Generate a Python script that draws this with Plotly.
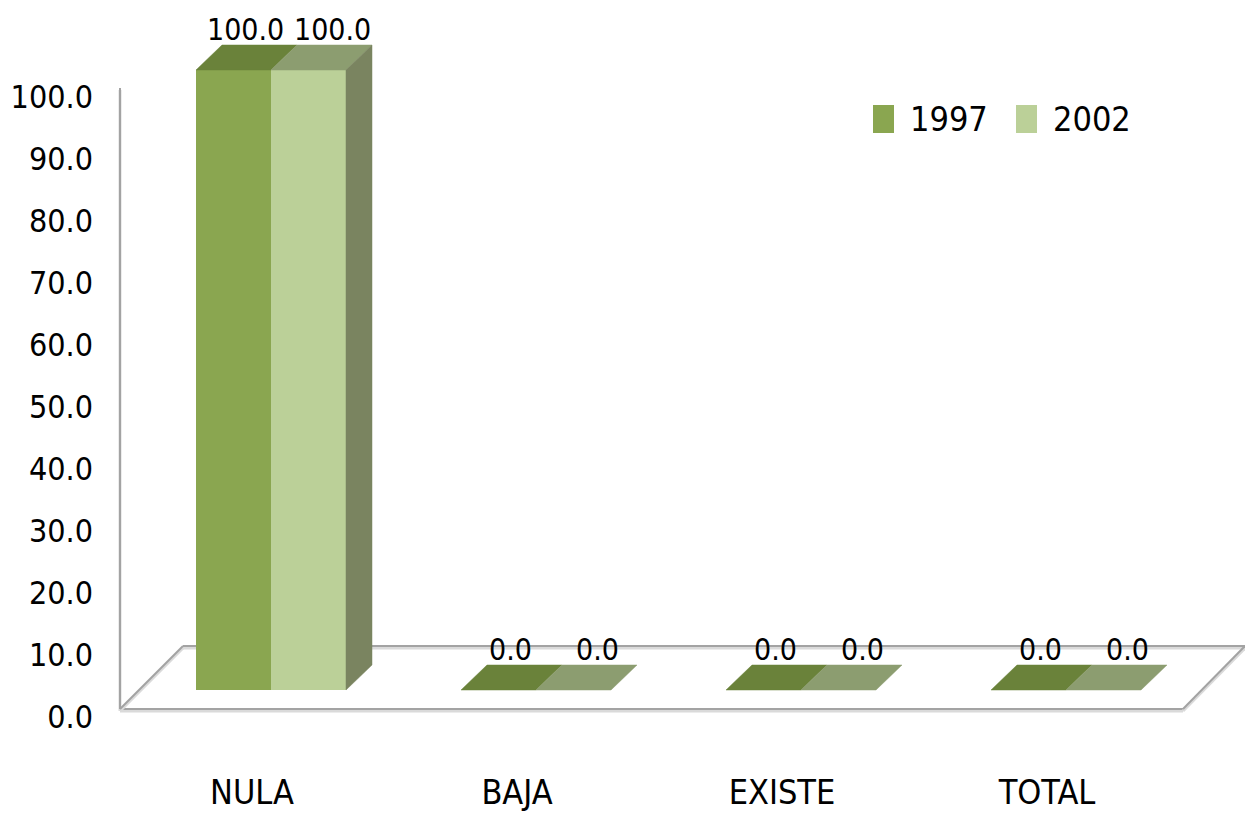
import plotly.graph_objects as go

# ---- data ----
categories = ["NULA", "BAJA", "EXISTE", "TOTAL"]
series_names = ["1997", "2002"]
values_1997 = [100.0, 0.0, 0.0, 0.0]
values_2002 = [100.0, 0.0, 0.0, 0.0]
y_ticks = [0, 10, 20, 30, 40, 50, 60, 70, 80, 90, 100]

# ---- styling ----
FONT = "Liberation Sans Narrow, DejaVu Sans Condensed, Arial Narrow, sans-serif"
front_cols = ["#8aa650", "#bbd098"]
top_cols = ["#6a823a", "#8c9d70"]
side_col = "#7a8460"
wall_col = "#a3a3a3"

W, H = 1245, 815
ML, MR, MT, MB = 120, 0, 0, 105
PX_PER_X = 265.0          # pixels per category step
PX_PER_Y = 6.2            # pixels per value unit
X0_PX = 271.0             # pixel of first category centre
Y0_PX = 690.0             # pixel of value 0 (bar base)

x_range = [(ML - X0_PX) / PX_PER_X, (W - MR - X0_PX) / PX_PER_X]
y_range = [(Y0_PX - (H - MB)) / PX_PER_Y, Y0_PX / PX_PER_Y]

bar_w = 75.0 / PX_PER_X
DX = 26.0 / PX_PER_X      # oblique depth, x
DY = 25.0 / PX_PER_Y      # oblique depth, y
label_shift = 19.0 / PX_PER_X

pos = list(range(len(categories)))
series = [values_1997, values_2002]

fig = go.Figure()

# front faces
for k, vals in enumerate(series):
    fig.add_trace(go.Bar(
        x=pos, y=vals, width=bar_w, offset=(-bar_w if k == 0 else 0.0),
        marker=dict(color=front_cols[k], line=dict(width=0)),
        name=series_names[k], showlegend=False, hoverinfo="skip"))

# top faces and right side face
for k, vals in enumerate(series):
    xs, ys = [], []
    for p, v in zip(pos, vals):
        xl = p - bar_w if k == 0 else p
        xr = xl + bar_w
        xs += [xl, xr, xr + DX, xl + DX, xl, None]
        ys += [v, v, v + DY, v + DY, v, None]
    fig.add_trace(go.Scatter(x=xs, y=ys, mode="lines", fill="toself",
                             fillcolor=top_cols[k],
                             line=dict(color=top_cols[k], width=0.5),
                             showlegend=False, hoverinfo="skip"))
xs, ys = [], []
for p, v in zip(pos, values_2002):
    if v <= 0:
        continue
    xr = p + bar_w
    xs += [xr, xr, xr + DX, xr + DX, xr, None]
    ys += [0, v, v + DY, DY, 0, None]
fig.add_trace(go.Scatter(x=xs, y=ys, mode="lines", fill="toself",
                         fillcolor=side_col, line=dict(color=side_col, width=0.5),
                         showlegend=False, hoverinfo="skip"))

# value labels
annotations = []
label_xshift = [12, 24]
for k, vals in enumerate(series):
    for p, v in zip(pos, vals):
        xc = p - bar_w / 2 if k == 0 else p + bar_w / 2
        annotations.append(dict(
            x=xc, y=v, xref="x", yref="y", text=f"{v:.1f}", showarrow=False,
            xanchor="center", yanchor="bottom", xshift=label_xshift[k], yshift=21,
            font=dict(family=FONT, size=30, color="#000000")))


# walls / floor outline (pixel positions converted to paper coords)
def pp(px, py):
    return (px - ML) / (W - ML - MR), ((H - MB) - py) / (H - MT - MB)


def wall_line(p1, p2, shapes):
    a, b = pp(*p1), pp(*p2)
    sa, sb = pp(p1[0], p1[1] + 2), pp(p2[0], p2[1] + 2)
    shapes.append(dict(type="line", xref="paper", yref="paper", layer="below",
                       x0=sa[0], y0=sa[1], x1=sb[0], y1=sb[1],
                       line=dict(color="#dadada", width=3)))
    shapes.append(dict(type="line", xref="paper", yref="paper", layer="below",
                       x0=a[0], y0=a[1], x1=b[0], y1=b[1],
                       line=dict(color=wall_col, width=2)))


shapes = []
wall_line((120, 88), (120, 709), shapes)
wall_line((120, 709), (1183, 709), shapes)
wall_line((183, 646), (1245, 646), shapes)
wall_line((120, 709), (183, 646), shapes)
wall_line((1183, 709), (1245, 646), shapes)

# legend swatches and names
legend_x = [873, 1016]
for k, name in enumerate(series_names):
    a = pp(legend_x[k], 105)
    b = pp(legend_x[k] + 21, 133)
    shapes.append(dict(type="rect", xref="paper", yref="paper",
                       x0=a[0], y0=b[1], x1=b[0], y1=a[1],
                       fillcolor=front_cols[k], line=dict(width=0)))
    t = pp(legend_x[k] + 35, 119)
    annotations.append(dict(x=t[0], y=t[1], xref="paper", yref="paper",
                            text=name, showarrow=False, xanchor="left",
                            yanchor="middle",
                            font=dict(family=FONT, size=34, color="#000000")))

fig.update_layout(
    width=W, height=H,
    margin=dict(l=ML, r=MR, t=MT, b=MB, autoexpand=False),
    paper_bgcolor="white", plot_bgcolor="white",
    barmode="overlay", showlegend=False,
    shapes=shapes, annotations=annotations,
    font=dict(family=FONT, color="#000000"),
    xaxis=dict(range=x_range, showgrid=False, zeroline=False, showline=False,
               tickvals=[p - label_shift for p in pos], ticktext=categories,
               ticks="", tickfont=dict(family=FONT, size=34),
               ticklabelstandoff=59, fixedrange=True),
    yaxis=dict(range=y_range, showgrid=False, zeroline=False, showline=False,
               tickvals=y_ticks, ticktext=[f"{v:.1f}" for v in y_ticks],
               ticks="", tickfont=dict(family=FONT, size=32),
               ticklabelshift=27, ticklabelstandoff=26, fixedrange=True),
)

fig.write_html("out.html")
